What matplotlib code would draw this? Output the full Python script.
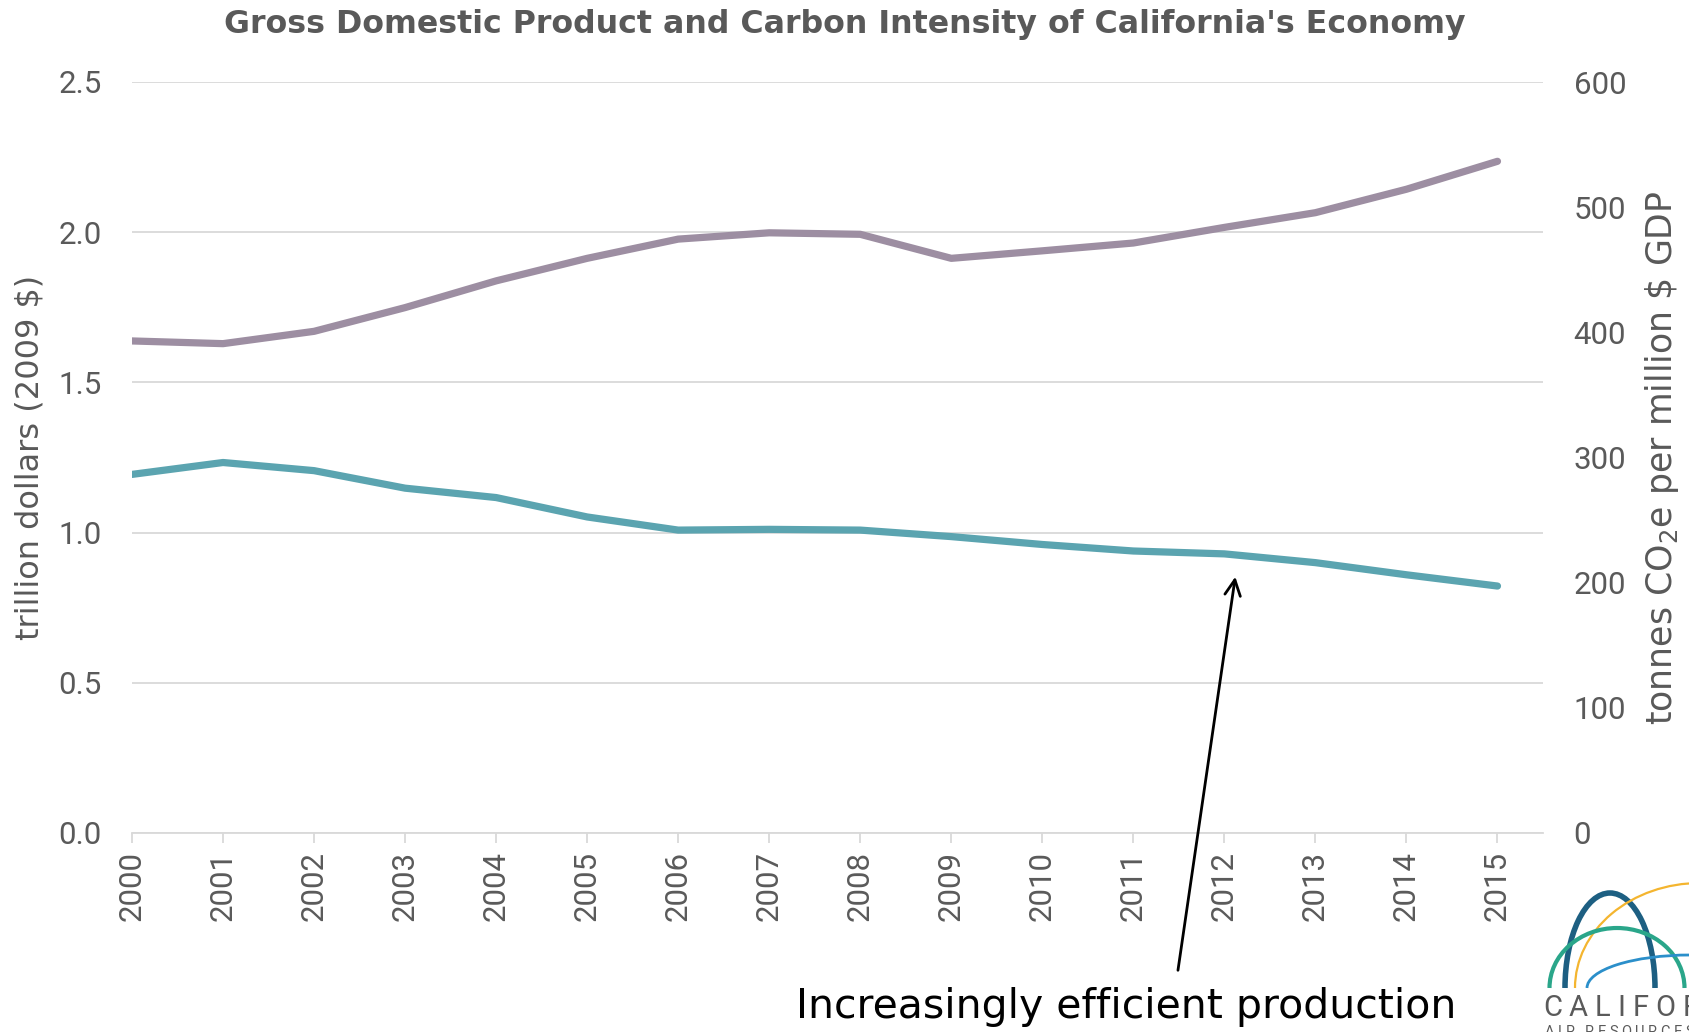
import matplotlib
matplotlib.use("Agg")
import matplotlib.pyplot as plt
from matplotlib.patches import Arc

# ---- data ----
years = [2000, 2001, 2002, 2003, 2004, 2005, 2006, 2007,
         2008, 2009, 2010, 2011, 2012, 2013, 2014, 2015]
gdp_trillion = [1.638, 1.629, 1.670, 1.749, 1.838, 1.913, 1.977, 1.998,
                1.993, 1.913, 1.938, 1.964, 2.016, 2.065, 2.143, 2.236]
carbon_intensity = [286.5, 296.0, 289.5, 275.5, 268.0, 252.5, 242.0, 242.6,
                    242.0, 236.8, 230.5, 225.3, 223.0, 216.0, 206.3, 197.3]
left_ticks = [0.0, 0.5, 1.0, 1.5, 2.0, 2.5]
right_ticks = [0, 100, 200, 300, 400, 500, 600]

title = "Gross Domestic Product and Carbon Intensity of California's Economy"
left_label = "trillion dollars (2009 $)"
right_label = r"tonnes CO$_2$e per million \$ GDP"
note = "Increasingly efficient production"
logo_word = "CALIFORNIA"
logo_sub = "AIR RESOURCES BOARD"

WIDE = "DejaVu Sans"
TICKF = "Roboto"
plt.rcParams['font.family'] = [WIDE]
plt.rcParams['mathtext.fontset'] = 'custom'
plt.rcParams['mathtext.rm'] = WIDE
plt.rcParams['mathtext.it'] = WIDE
plt.rcParams['mathtext.bf'] = WIDE

GRAY = "#595959"
TICKC = "#5a5a5a"
GRID = "#d9d9d9"
PURPLE = "#9d8ea2"
TEAL = "#5ba4b0"

W, H = 1690, 1032
fig = plt.figure(figsize=(W / 100, H / 100), dpi=100)

L, R, T, B = 132, 1543, 82, 833
ax = fig.add_axes([L / W, 1 - B / H, (R - L) / W, (B - T) / H])
ax2 = ax.twinx()

ax.set_xlim(2000, 2015.5)
ax.set_ylim(0, 2.5)
ax2.set_ylim(0, 600)

ax.set_yticks(left_ticks)
ax.set_yticklabels([f"{v:.1f}" for v in left_ticks])
ax2.set_yticks(right_ticks)
ax2.set_yticklabels([str(v) for v in right_ticks])
ax.set_xticks(years)
ax.set_xticklabels([str(y) for y in years], rotation=90)

for lab in ax.get_xticklabels() + ax.get_yticklabels() + ax2.get_yticklabels():
    lab.set_fontfamily(TICKF)
    lab.set_fontweight('normal')
    lab.set_fontsize(22.5)

ax.grid(axis='y', color=GRID, lw=1.3)
ax.set_axisbelow(True)
for a in (ax, ax2):
    for s in ('left', 'right', 'top', 'bottom'):
        a.spines[s].set_visible(False)
ax.spines['bottom'].set_visible(True)
ax.spines['bottom'].set_color(GRID)
ax.spines['bottom'].set_linewidth(1.3)

ax.tick_params(axis='x', length=7, width=1.3, color=GRID, labelcolor=TICKC, pad=6)
ax.tick_params(axis='y', length=0, labelcolor=TICKC, pad=22)
ax2.tick_params(axis='y', length=0, labelcolor=TICKC, pad=22)

ax.plot(years, gdp_trillion, color=PURPLE, lw=5.2, solid_capstyle='round',
        solid_joinstyle='round', zorder=3)
ax2.plot(years, carbon_intensity, color=TEAL, lw=5.2, solid_capstyle='round',
         solid_joinstyle='round', zorder=3)

ax.set_ylabel(left_label, color=GRAY, fontsize=23)
ax.yaxis.set_label_coords((46 - L) / (R - L), 0.5)
ax2.set_ylabel(right_label, color=GRAY, fontsize=25, rotation=90)
ax2.yaxis.set_label_coords((1643 - L) / (R - L), 0.5)

fig.text(845 / W, 1 - 24 / H, title, ha='center', va='center',
         fontsize=22.8, fontweight='bold', color=GRAY)

# annotation arrow and text
ax.annotate('', xy=(2012.12, 0.853), xytext=(2011.49, -0.457),
            arrowprops=dict(arrowstyle='->', lw=2, color='black',
                            mutation_scale=28, shrinkA=0, shrinkB=0),
            annotation_clip=False)
fig.text(1126 / W, 1 - 1007 / H, note, ha='center', va='center',
         fontsize=29.5, color='black')

# logo (partially cropped at the figure edge)
lg = fig.add_axes([0, 0, 1, 1], zorder=-1)
lg.set_xlim(0, W)
lg.set_ylim(H, 0)
lg.axis('off')
arcs = [
    (1610, 988, 90, 190, "#1d5f82", 4.0),
    (1700, 988, 250, 210, "#f4b52f", 1.6),
    (1617, 988, 135, 120, "#2aa68a", 3.0),
    (1690, 988, 206, 66, "#2b8fca", 2.0),
]
for cx, cy, w, h, c, lw in arcs:
    lg.add_patch(Arc((cx, cy), w, h, theta1=180, theta2=360, color=c, lw=lw))

renderer = fig.canvas.get_renderer()


def spaced(text, x0, y0, size, track, weight):
    x = x0
    for ch in text:
        if ch == " ":
            x += size * 0.35 + track
            continue
        t = lg.text(x, y0, ch, fontsize=size, color="#5a5a5a", ha='left',
                    va='baseline', family=TICKF, fontweight=weight)
        bb = t.get_window_extent(renderer)
        x += bb.width + track


spaced(logo_word, 1543, 1016, 21, 7, 'normal')
spaced(logo_sub, 1545, 1036, 10.5, 3.5, 'normal')

fig.savefig("out.png", dpi=100)
